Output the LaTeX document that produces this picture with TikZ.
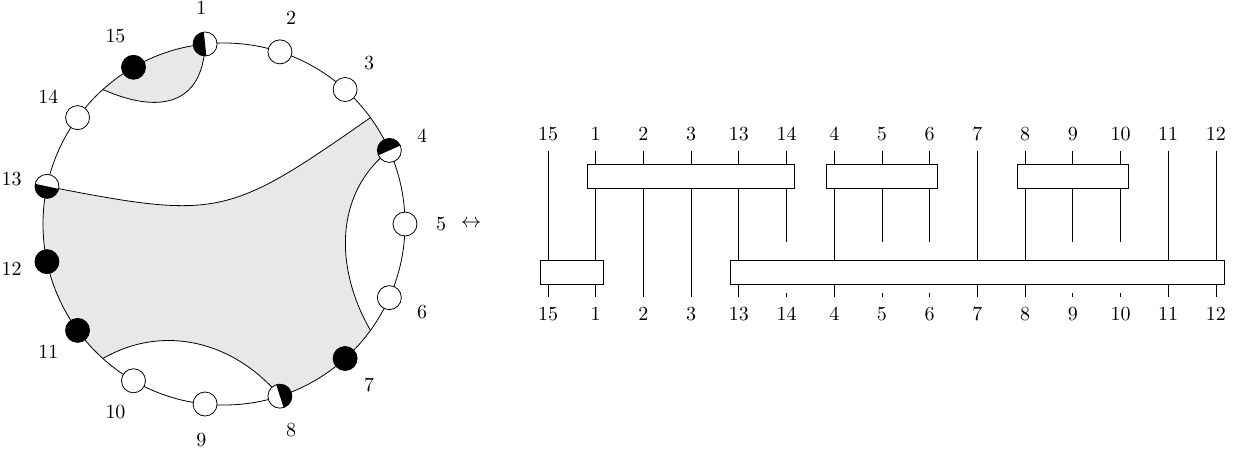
\documentclass[tikz,border=0pt]{standalone}
\colorlet{face}{black!9}
\tikzset{
	vert/.style={circle, draw, fill=white, minimum size=12pt, inner sep=0pt},
	vblack/.style={vert, fill=black},
	blockbox/.style={draw, fill=white},
	wire/.style={shorten <=1.5pt, shorten >=1.5pt},
	lobe/.style={out=-92, in=-24, looseness=1.4},
	belt/.style={out=215, in=-11, looseness=1.35},
	bow/.style={out=218, in=120},
	dip/.style={out=30, in=130},
}
\begin{document}
\begin{tikzpicture}[x=.5pt, y=.5pt]
\useasboundingbox (-224,-228) rectangle (1013,224);
\def\R{181}

\foreach \k in {1,2,...,15}
	\coordinate (p\k) at (120-24*\k:\R);
\coordinate (c36) at (36:\R);
\coordinate (c132) at (132:\R);
\coordinate (c228) at (228:\R);
\coordinate (c324) at (324:\R);

% faces
\fill[face] (p1) to[lobe] (c132) arc[start angle=132,end angle=96,radius=\R] -- cycle;
\fill[face] (c36) to[belt] (p13) arc[start angle=168,end angle=228,radius=\R]
	to[dip] (p8) arc[start angle=288,end angle=324,radius=\R]
	to[out=120,in=218] (p4) arc[start angle=24,end angle=36,radius=\R] -- cycle;

\draw (0,0) circle (\R);
\draw (p1) to[lobe] (c132);
\draw (c36) to[belt] (p13);
\draw (p4) to[bow] (c324);
\draw (c228) to[dip] (p8);

\foreach \k/\s in {1/vert,2/vert,3/vert,4/vert,5/vert,6/vert,7/vblack,8/vert,
	9/vert,10/vert,11/vblack,12/vblack,13/vert,14/vert,15/vblack}
{
	\node[\s] (v\k) at (p\k) {};
	\node (l\k) at (120-24*\k:217) {\k};
}
\foreach \k in {1,4,8,13}
{
	\pgfmathsetmacro\a{120-24*\k}
	\fill (v\k.center) ++(\a:6pt) arc[start angle=\a, delta angle=180, radius=6pt] -- cycle;
}

\node (arr) at (247,0) {$\leftrightarrow$};

% strands
\foreach \c [count=\i from 0] in {15,1,2,3,13,14,4,5,6,7,8,9,10,11,12}
{
	\node (t\c) at (324+47.71*\i, 90) {\c};
	\node (b\c) at (324+47.71*\i, -90) {\c};
}
\coordinate (stop) at (0,-21);
\coordinate (stub) at (0,-66);
\foreach \c in {15,1,2,3,13,4,7,8,11,12}
	\draw[wire] (t\c) -- (b\c);
\foreach \c in {14,5,6,9,10}
{
	\draw[wire] (t\c) -- (t\c |- stop);
	\draw[wire] (b\c) -- (b\c |- stub);
}

\draw[blockbox] ([shift={(-8,-54)}]t1.center) rectangle ([shift={(8,-30)}]t14.center);
\draw[blockbox] ([shift={(-8,-54)}]t4.center) rectangle ([shift={(8,-30)}]t6.center);
\draw[blockbox] ([shift={(-8,-54)}]t8.center) rectangle ([shift={(8,-30)}]t10.center);
\draw[blockbox] ([shift={(-8,30)}]b15.center) rectangle ([shift={(8,54)}]b1.center);
\draw[blockbox] ([shift={(-8,30)}]b13.center) rectangle ([shift={(8,54)}]b12.center);
\end{tikzpicture}
\end{document}
